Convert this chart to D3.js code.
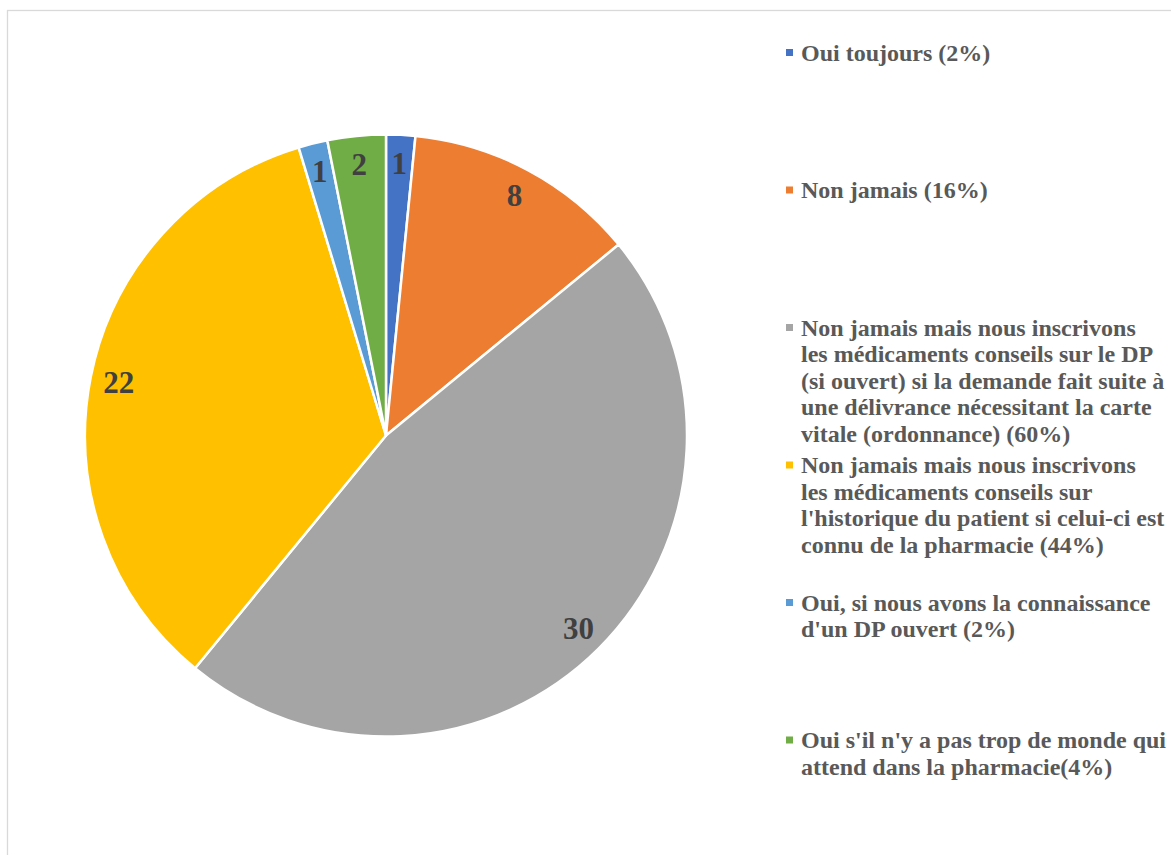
<!DOCTYPE html>
<html>
<head>
<meta charset="utf-8">
<script src="https://cdn.jsdelivr.net/npm/d3@7"></script>
<style>
  html, body { margin: 0; padding: 0; background: #fff; }
  svg { display: block; }
  text { font-family: "Liberation Serif", "Times New Roman", serif; font-weight: bold; }
</style>
</head>
<body>
<svg id="chart" width="1171" height="855"></svg>
<script>
// Survey answers, in drawing order (clockwise from 12 o'clock)
const categories = [
  ["Oui toujours (2%)"],
  ["Non jamais (16%)"],
  ["Non jamais mais nous inscrivons", "les médicaments conseils sur le DP", "(si ouvert) si la demande fait suite à", "une délivrance nécessitant la carte", "vitale (ordonnance) (60%)"],
  ["Non jamais mais nous inscrivons", "les médicaments conseils sur", "l'historique du patient si celui-ci est", "connu de la pharmacie (44%)"],
  ["Oui, si nous avons la connaissance", "d'un DP ouvert (2%)"],
  ["Oui s'il n'y a pas trop de monde qui", "attend dans la pharmacie(4%)"]
];
const counts = [1, 8, 30, 22, 1, 2];
const colors = ["#4472C4", "#ED7D31", "#A5A5A5", "#FFC000", "#5B9BD5", "#70AD47"];

const svg = d3.select("#chart");

// chart area frame
svg.append("rect")
  .attr("x", 7.5).attr("y", 10.5)
  .attr("width", 1200).attr("height", 900)
  .attr("fill", "none")
  .attr("stroke", "#D9D9D9")
  .attr("stroke-width", 1.3);

const cx = 386, cy = 435.5, radius = 301;
const data = counts.map((v, i) => ({ value: v, label: categories[i], color: colors[i] }));

const pie = d3.pie().value(d => d.value).sort(null);
const arcs = pie(data);
const arc = d3.arc().innerRadius(0).outerRadius(radius);
const labelArc = d3.arc().innerRadius(radius * 0.905).outerRadius(radius * 0.905);

const g = svg.append("g").attr("transform", `translate(${cx},${cy})`);

g.selectAll("path.slice")
  .data(arcs)
  .join("path")
  .attr("class", "slice")
  .attr("d", arc)
  .attr("fill", d => d.data.color)
  .attr("stroke", "#fff")
  .attr("stroke-width", 2.5)
  .attr("stroke-linejoin", "round");

g.selectAll("text.value")
  .data(arcs)
  .join("text")
  .attr("class", "value")
  .attr("transform", d => `translate(${labelArc.centroid(d)})`)
  .attr("text-anchor", "middle")
  .attr("dominant-baseline", "central")
  .attr("font-size", 31)
  .attr("fill", "#404040")
  .text(d => d.data.value);

// legend
const legendX = 786, legendTop = 52.5, legendStep = 137.5, lineH = 26.5;
const legend = svg.append("g");
data.forEach((d, i) => {
  const y0 = legendTop + i * legendStep;
  legend.append("rect")
    .attr("x", legendX).attr("y", y0 - 3.5)
    .attr("width", 7).attr("height", 7)
    .attr("fill", d.color);
  const t = legend.append("text")
    .attr("font-size", 24)
    .attr("fill", "#595959");
  d.label.forEach((line, j) => {
    t.append("tspan")
      .attr("x", 801)
      .attr("y", y0 + j * lineH)
      .attr("dominant-baseline", "central")
      .text(line);
  });
});
</script>
</body>
</html>
